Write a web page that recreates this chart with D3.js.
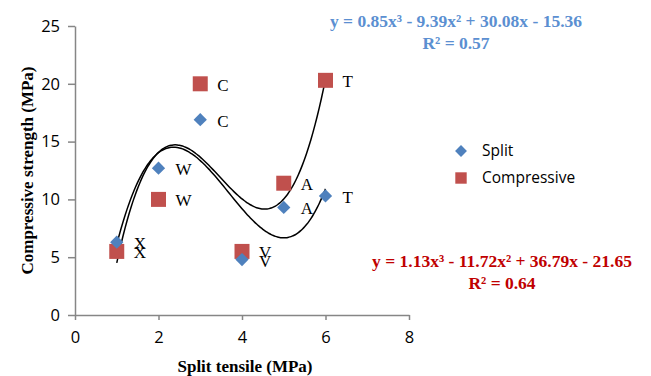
<!DOCTYPE html>
<html>
<head>
<meta charset="utf-8">
<script src="https://cdn.jsdelivr.net/npm/d3@7"></script>
<style>
  body { margin: 0; background: #fff; }
  svg { display: block; }
</style>
</head>
<body>
<svg id="chart" width="651" height="376"></svg>
<script>

// Data

var sampleLabels = ["X", "W", "C", "V", "A", "T"];
var splitTensile = [1, 2, 3, 4, 5, 6];
var splitValues = [6.3, 12.7, 16.9, 4.8, 9.3, 10.3];
var compressiveValues = [5.5, 10.0, 20.0, 5.5, 11.4, 20.3];

var splitEquation = ["y = 0.85x\u00b3 - 9.39x\u00b2 + 30.08x - 15.36", "R\u00b2 = 0.57"];
var compressiveEquation = ["y = 1.13x\u00b3 - 11.72x\u00b2 + 36.79x - 21.65", "R\u00b2 = 0.64"];

var xTicks = [0, 2, 4, 6, 8];
var yTicks = [0, 5, 10, 15, 20, 25];

var splitColor = "#4F81BD",
    compColor = "#C0504D",
    axisColor = "#868686";

var svg = d3.select("#chart");

var margin = {left: 75, top: 26, right: 242, bottom: 61},
    width = 651 - margin.left - margin.right,
    height = 376 - margin.top - margin.bottom;

var x = d3.scaleLinear().domain([0, 8]).range([margin.left, margin.left + width]);
var y = d3.scaleLinear().domain([0, 25]).range([margin.top + height, margin.top]);

// Axes

var xAxis = svg.append("g")
  .attr("transform", "translate(0," + y(0) + ")")
  .call(d3.axisBottom(x).tickValues(xTicks).tickSize(5).tickPadding(11).tickSizeOuter(0));

var yAxis = svg.append("g")
  .attr("transform", "translate(" + x(0) + ",0)")
  .call(d3.axisLeft(y).tickValues(yTicks).tickSize(7).tickPadding(8).tickSizeOuter(0));

[xAxis, yAxis].forEach(function(a) {
  a.select(".domain").attr("stroke", axisColor).attr("stroke-width", 1.5);
  a.selectAll(".tick line").attr("stroke", axisColor).attr("stroke-width", 1.5);
  a.selectAll(".tick text")
    .attr("fill", "#000")
    .style("font-family", "'Open Sans', sans-serif")
    .style("font-size", "16.5px");
});

// Axis titles

svg.append("text")
  .attr("x", (x(0) + x(8)) / 2 + 3)
  .attr("y", 372)
  .attr("text-anchor", "middle")
  .style("font-family", "'Liberation Serif', serif")
  .style("font-weight", "bold")
  .style("font-size", "17px")
  .text("Split tensile (MPa)");

svg.append("text")
  .attr("transform", "translate(33," + y(12.5) + ") rotate(-90)")
  .attr("text-anchor", "middle")
  .style("font-family", "'Liberation Serif', serif")
  .style("font-weight", "bold")
  .style("font-size", "17px")
  .text("Compressive strength (MPa)");

// Trendlines: least squares cubic through each series

function cubicFit(xv, yv) {
  var n = 4, A = [], b = [];
  for (var r = 0; r < n; r++) {
    A.push([]);
    b.push(d3.sum(xv, function(v, i) { return Math.pow(v, r) * yv[i]; }));
    for (var c = 0; c < n; c++) A[r].push(d3.sum(xv, function(v) { return Math.pow(v, r + c); }));
  }
  for (var p = 0; p < n; p++) {
    for (var r2 = p + 1; r2 < n; r2++) {
      var f = A[r2][p] / A[p][p];
      for (var c2 = p; c2 < n; c2++) A[r2][c2] -= f * A[p][c2];
      b[r2] -= f * b[p];
    }
  }
  var k = [0, 0, 0, 0];
  for (var i = n - 1; i >= 0; i--) {
    var s = b[i];
    for (var j = i + 1; j < n; j++) s -= A[i][j] * k[j];
    k[i] = s / A[i][i];
  }
  return function(v) { return k[0] + k[1] * v + k[2] * v * v + k[3] * v * v * v; };
}

var xs = d3.range(1, 6.001, 0.05);
var line = d3.line().curve(d3.curveBasis);

[splitValues, compressiveValues].forEach(function(vals) {
  var f = cubicFit(splitTensile, vals);
  svg.append("path")
    .attr("d", line(xs.map(function(v) { return [x(v), y(f(v))]; })))
    .attr("fill", "none")
    .attr("stroke", "#000")
    .attr("stroke-width", 1.5);
});

// Markers

var diamond = d3.symbol().type(d3.symbolDiamond2).size(112);
var square = d3.symbol().type(d3.symbolSquare).size(225);

svg.selectAll(".comp")
  .data(compressiveValues)
  .enter()
  .append("path")
  .attr("class", "comp")
  .attr("transform", function(d, i) { return "translate(" + x(splitTensile[i]) + "," + y(d) + ")"; })
  .attr("d", square)
  .attr("fill", compColor);

svg.selectAll(".split")
  .data(splitValues)
  .enter()
  .append("path")
  .attr("class", "split")
  .attr("transform", function(d, i) { return "translate(" + x(splitTensile[i]) + "," + y(d) + ")"; })
  .attr("d", diamond)
  .attr("fill", splitColor);

// Point labels

function pointLabels(values, cls) {
  svg.selectAll("." + cls)
    .data(values)
    .enter()
    .append("text")
    .attr("class", cls)
    .attr("x", function(d, i) { return x(splitTensile[i]) + 17; })
    .attr("y", function(d) { return y(d) + 7; })
    .style("font-family", "'Liberation Serif', serif")
    .style("font-size", "17px")
    .text(function(d, i) { return sampleLabels[i]; });
}
pointLabels(compressiveValues, "clab");
pointLabels(splitValues, "slab");

// Legend

var legend = svg.append("g").attr("transform", "translate(461,151)");

legend.append("path").attr("d", d3.symbol().type(d3.symbolDiamond2).size(90)).attr("fill", splitColor);
legend.append("path").attr("transform", "translate(0,27)")
  .attr("d", d3.symbol().type(d3.symbolSquare).size(130)).attr("fill", compColor);

legend.selectAll(".ltext")
  .data(["Split", "Compressive"])
  .enter()
  .append("text")
  .attr("x", 21)
  .attr("y", function(d, i) { return i * 27; })
  .attr("dy", ".35em")
  .style("font-family", "'Open Sans', sans-serif")
  .style("font-size", "15.5px")
  .text(function(d) { return d; });

// Trendline equations

function equation(lines, cx, cy, color) {
  svg.selectAll(null)
    .data(lines)
    .enter()
    .append("text")
    .attr("x", cx)
    .attr("y", function(d, i) { return cy + i * 22; })
    .attr("text-anchor", "middle")
    .attr("fill", color)
    .style("font-family", "'Liberation Serif', serif")
    .style("font-weight", "bold")
    .style("font-size", "17.5px")
    .text(function(d) { return d; });
}

equation(splitEquation, 456, 27, "#5B8FD1");
equation(compressiveEquation, 502, 267, "#C00000");

</script>
</body>
</html>
